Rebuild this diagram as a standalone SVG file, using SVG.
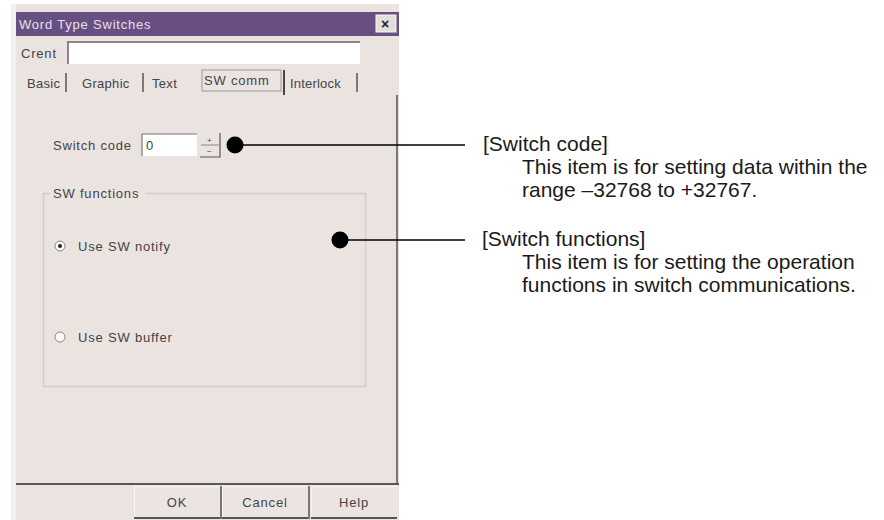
<svg xmlns="http://www.w3.org/2000/svg" width="884" height="520" viewBox="0 0 884 520">
<style>
.ui{font-family:"Liberation Sans",Arial,sans-serif;font-size:13px;letter-spacing:0.8px;fill:#444}
.tab{letter-spacing:0.3px}
.ann{font-family:"Liberation Sans",Arial,sans-serif;font-size:21px;fill:#1a1a1a}
.lead{stroke:#000;stroke-width:1.3;fill:none}
.dot{fill:#000}
.btn{fill:#ebe4e1}
.sep{stroke:#555;stroke-width:1.5}
</style>
<rect width="884" height="520" fill="#fff"/>
<g id="dialog">
  <rect x="11" y="4" width="388" height="516" fill="#ebe3e0"/>
  <rect x="11" y="4" width="5" height="516" fill="#f4f1ef"/>
  <rect x="16" y="12" width="383" height="24" fill="#684f82"/>
  <text class="ui" x="19" y="29" style="fill:#e6e0ea">Word Type Switches</text>
  <rect x="376" y="15" width="20" height="17" fill="#e4dedb" stroke="#f8f6f5"/>
  <text class="ui" x="381" y="29" style="font-size:14px;font-weight:bold;fill:#222;letter-spacing:0">×</text>
  <text class="ui" x="21" y="58">Crent</text>
  <rect x="68" y="42" width="292" height="22" fill="#fff"/>
  <path d="M68 64 V42 H360" stroke="#666" stroke-width="1.5" fill="none"/>
  <text class="ui tab" x="27" y="88">Basic</text>
  <line x1="66" y1="73" x2="66" y2="92" class="sep"/>
  <text class="ui tab" x="82" y="88">Graphic</text>
  <line x1="143" y1="73" x2="143" y2="92" class="sep"/>
  <text class="ui tab" x="152" y="88">Text</text>
  <rect x="202" y="70" width="79" height="21" fill="none" stroke="#999"/>
  <text class="ui" x="204" y="85">SW comm</text>
  <line x1="284" y1="70" x2="284" y2="95" stroke="#444" stroke-width="2"/>
  <text class="ui" x="290" y="88" style="letter-spacing:0.2px">Interlock</text>
  <line x1="357" y1="73" x2="357" y2="92" class="sep"/>
  <line x1="397" y1="95" x2="397" y2="483" stroke="#555" stroke-width="1.5"/>
  <text class="ui" x="53" y="150">Switch code</text>
  <rect x="142" y="134" width="55" height="22" fill="#fff"/>
  <path d="M142 156 V134 H197" stroke="#777" stroke-width="1.2" fill="none"/>
  <text class="ui" x="146" y="150">0</text>
  <path d="M200 157 H220 V133" stroke="#555" stroke-width="1.2" fill="none"/>
  <line x1="201" y1="145" x2="219" y2="145" stroke="#888"/>
  <text class="ui" x="207" y="143" style="font-size:8px;letter-spacing:0">+</text>
  <text class="ui" x="207" y="154" style="font-size:8px;letter-spacing:0">−</text>
  <rect x="43.5" y="193.5" width="322" height="193" fill="none" stroke="#d2ccc9" stroke-width="1.5"/>
  <rect x="50" y="186" width="95" height="14" fill="#ebe3e0"/>
  <text class="ui" x="53" y="198">SW functions</text>
  <circle cx="60" cy="246" r="5" fill="#fbfafa" stroke="#888"/>
  <circle cx="60" cy="246" r="2" fill="#222"/>
  <text class="ui" x="78" y="251">Use SW notify</text>
  <circle cx="60" cy="337" r="5" fill="#fbfafa" stroke="#888"/>
  <text class="ui" x="78" y="342">Use SW buffer</text>
  <line x1="16" y1="484" x2="399" y2="484" stroke="#5a5858" stroke-width="2"/>
  <g id="btn-ok">
    <rect x="134" y="486" width="86" height="33" class="btn"/>
    <path d="M134.5 518 V486.5 H220" stroke="#f8f6f5" fill="none"/>
    <line x1="134" y1="518" x2="220" y2="518" stroke="#555" stroke-width="2"/>
    <text class="ui" x="177" y="507" text-anchor="middle">OK</text>
  </g>
  <g id="btn-cancel">
    <rect x="222" y="486" width="86" height="33" class="btn"/>
    <path d="M222.5 518 V486.5 H308" stroke="#f8f6f5" fill="none"/>
    <line x1="221" y1="486" x2="221" y2="519" stroke="#555" stroke-width="1.5"/>
    <line x1="222" y1="518" x2="308" y2="518" stroke="#555" stroke-width="2"/>
    <text class="ui" x="265" y="507" text-anchor="middle">Cancel</text>
  </g>
  <g id="btn-help">
    <rect x="311" y="486" width="86" height="33" class="btn"/>
    <path d="M311.5 518 V486.5 H397" stroke="#f8f6f5" fill="none"/>
    <line x1="309" y1="486" x2="309" y2="519" stroke="#555" stroke-width="1.5"/>
    <line x1="311" y1="518" x2="397" y2="518" stroke="#555" stroke-width="2"/>
    <text class="ui" x="354" y="507" text-anchor="middle">Help</text>
  </g>
</g>
<g id="connectors">
  <circle cx="235" cy="145" r="8.5" class="dot"/>
  <line x1="235" y1="145" x2="465" y2="145" class="lead"/>
  <circle cx="340" cy="240" r="8.5" class="dot"/>
  <line x1="340" y1="240" x2="465" y2="240" class="lead"/>
</g>
<g id="note-switch-code">
  <text class="ann" x="483" y="151">[Switch code]</text>
  <text class="ann" x="522" y="174">This item is for setting data within the</text>
  <text class="ann" x="522" y="197">range –32768 to +32767.</text>
</g>
<g id="note-switch-functions">
  <text class="ann" x="482" y="246">[Switch functions]</text>
  <text class="ann" x="522" y="269">This item is for setting the operation</text>
  <text class="ann" x="522" y="292">functions in switch communications.</text>
</g>
</svg>
